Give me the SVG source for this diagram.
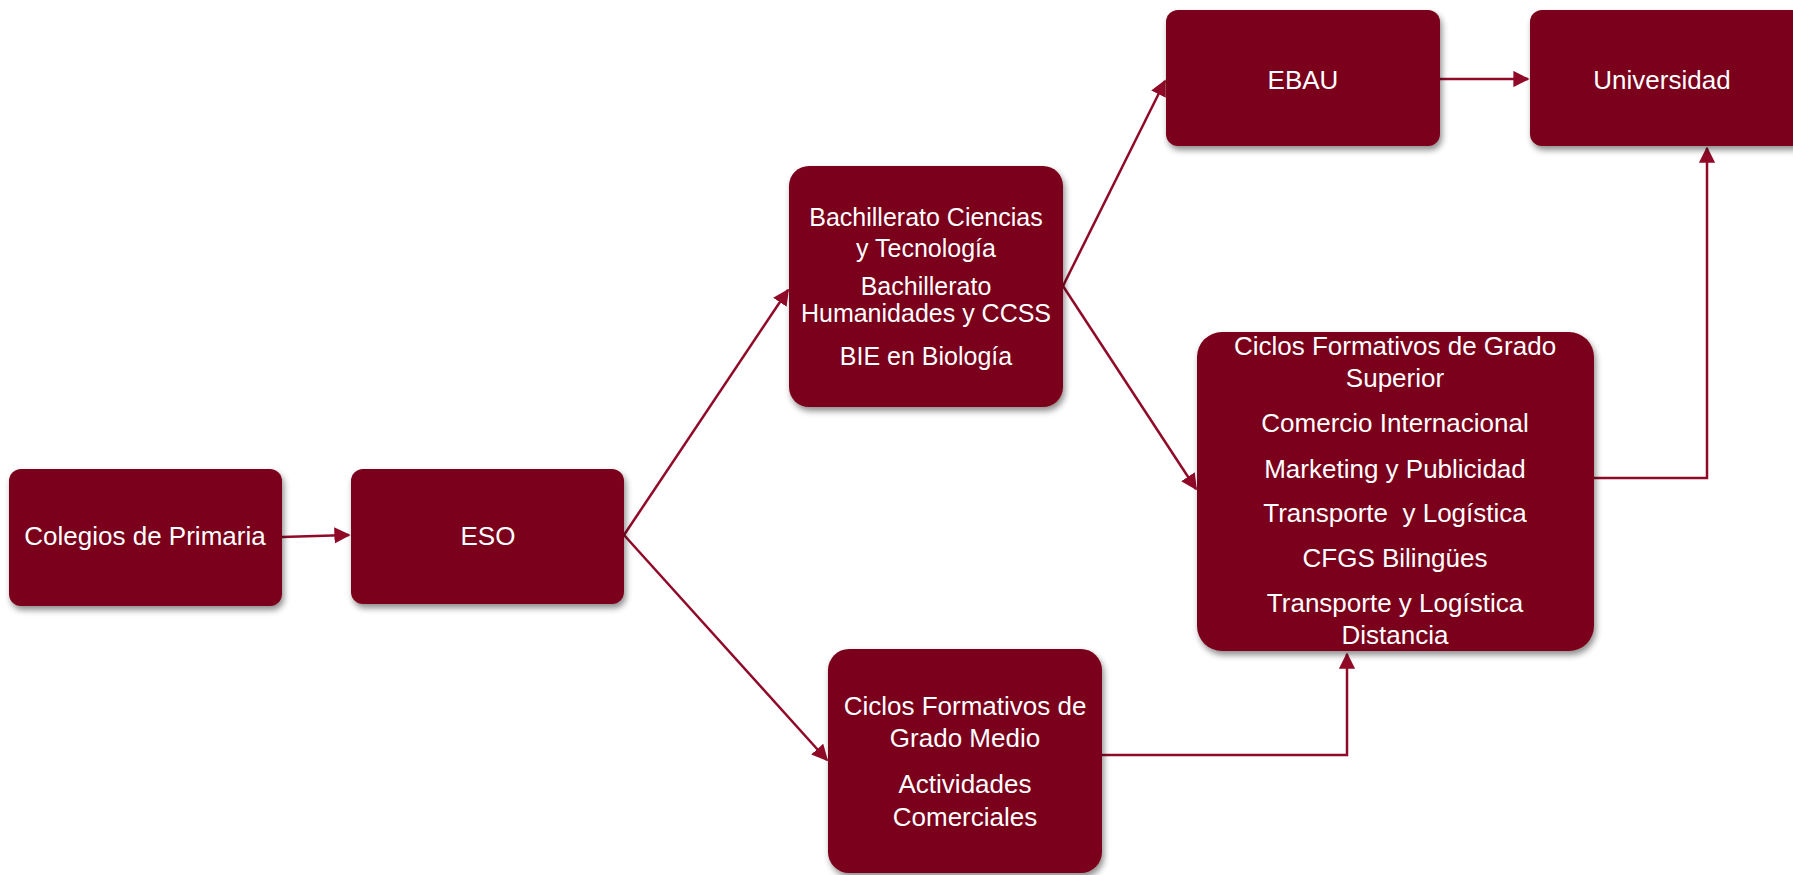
<svg xmlns="http://www.w3.org/2000/svg" width="1793" height="875" viewBox="0 0 1793 875">
<style>
.box{fill:#7a001c;filter:url(#sh)}
.t{font-family:"Liberation Sans",Arial,sans-serif;font-size:26px;fill:#ffffff;text-anchor:middle}
.t2{font-family:"Liberation Sans",Arial,sans-serif;font-size:25px;fill:#ffffff;text-anchor:middle}
.c{fill:none;stroke:#900a28;stroke-width:2.5;marker-end:url(#ah)}
</style>
<defs>
<filter id="sh" x="-10%" y="-10%" width="125%" height="130%">
<feDropShadow dx="2" dy="4" stdDeviation="3" flood-color="#000" flood-opacity="0.45"/>
</filter>
<marker id="ah" viewBox="0 0 10 10" refX="9" refY="5" markerWidth="6.5" markerHeight="6.5" orient="auto" markerUnits="strokeWidth">
<path d="M0,0 L10,5 L0,10 z" fill="#900a28"/>
</marker>
</defs>
<g id="connectors">
<path class="c" d="M282,537 L349,535"/>
<path class="c" d="M624,535 L788,290"/>
<path class="c" d="M624,535 L827,760"/>
<path class="c" d="M1063,286 L1165,81"/>
<path class="c" d="M1063,286 L1196,489"/>
<path class="c" d="M1440,79 L1528,79"/>
<path class="c" d="M1594,478 L1707,478 L1707,148"/>
<path class="c" d="M1102,755 L1347,755 L1347,654"/>
</g>
<g id="colegios">
<rect class="box" x="9" y="469" width="273" height="137" rx="12"/>
<text class="t" x="145" y="545">Colegios de Primaria</text>
</g>
<g id="eso">
<rect class="box" x="351" y="469" width="273" height="135" rx="12"/>
<text class="t" x="488" y="545">ESO</text>
</g>
<g id="bachillerato">
<rect class="box" x="789" y="166" width="274" height="241" rx="20"/>
<text class="t2" x="926" y="226">Bachillerato Ciencias</text>
<text class="t2" x="926" y="257">y Tecnología</text>
<text class="t2" x="926" y="295">Bachillerato</text>
<text class="t2" x="926" y="322">Humanidades y CCSS</text>
<text class="t2" x="926" y="365">BIE en Biología</text>
</g>
<g id="ebau">
<rect class="box" x="1166" y="10" width="274" height="136" rx="12"/>
<text class="t" x="1303" y="89">EBAU</text>
</g>
<g id="universidad">
<rect class="box" x="1530" y="10" width="274" height="136" rx="12"/>
<text class="t" x="1662" y="89">Universidad</text>
</g>
<g id="cfgs">
<rect class="box" x="1197" y="332" width="397" height="319" rx="25"/>
<text class="t" x="1395" y="355">Ciclos Formativos de Grado</text>
<text class="t" x="1395" y="387">Superior</text>
<text class="t" x="1395" y="432">Comercio Internacional</text>
<text class="t" x="1395" y="478">Marketing y Publicidad</text>
<text class="t" x="1395" y="522" xml:space="preserve">Transporte  y Logística</text>
<text class="t" x="1395" y="567">CFGS Bilingües</text>
<text class="t" x="1395" y="612">Transporte y Logística</text>
<text class="t" x="1395" y="644">Distancia</text>
</g>
<g id="cfgm">
<rect class="box" x="828" y="649" width="274" height="224" rx="21"/>
<text class="t" x="965" y="715">Ciclos Formativos de</text>
<text class="t" x="965" y="747">Grado Medio</text>
<text class="t" x="965" y="793">Actividades</text>
<text class="t" x="965" y="826">Comerciales</text>
</g>
</svg>
